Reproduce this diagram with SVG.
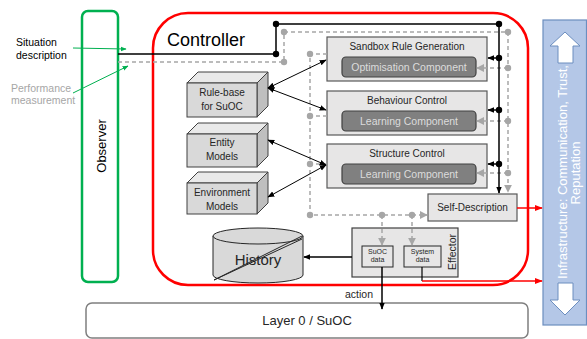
<svg xmlns="http://www.w3.org/2000/svg" width="587" height="339" viewBox="0 0 587 339">
<style>
text{font-family:"Liberation Sans",Arial,sans-serif;fill:#262626}
.box{fill:#e7e6e6;stroke:#595959;stroke-width:1.2}
.inner{fill:#808080;stroke:#404040;stroke-width:1.2}
.it{fill:#dcdcdc;font-size:10.5px;text-anchor:middle}
.t{font-size:10px;text-anchor:middle}
.blk{stroke:#000;stroke-width:1.5;fill:none}
.dsh{stroke:#a6a6a6;stroke-width:1.5;fill:none;stroke-dasharray:4,3}
.dotb{fill:#000}
.dotg{fill:#a6a6a6}
.front{fill:#d9d9d9;stroke:#404040}
.top{fill:#e9e9e9;stroke:#404040}
.side{fill:#bfbfbf;stroke:#404040}
</style>
<defs>
<marker id="ab" viewBox="0 0 10 10" refX="9" refY="5" markerWidth="7" markerHeight="7" markerUnits="userSpaceOnUse" orient="auto-start-reverse"><path d="M0,1 L10,5 L0,9 z" fill="#000"/></marker>
<marker id="ag" viewBox="0 0 10 10" refX="9" refY="5" markerWidth="8" markerHeight="8" markerUnits="userSpaceOnUse" orient="auto"><path d="M0,0 L10,5 L0,10 z" fill="#a6a6a6"/></marker>
<marker id="ar" viewBox="0 0 10 10" refX="9" refY="5" markerWidth="8" markerHeight="8" markerUnits="userSpaceOnUse" orient="auto"><path d="M0,1 L10,5 L0,9 z" fill="#ff0000"/></marker>
<marker id="agr" viewBox="0 0 10 10" refX="9" refY="5" markerWidth="6" markerHeight="6" markerUnits="userSpaceOnUse" orient="auto"><path d="M0,1 L10,5 L0,9 z" fill="#00b050"/></marker>
</defs>
<rect width="587" height="339" fill="#fff"/>

<g id="layer0">
<rect x="86" y="303" width="442" height="35" rx="6" fill="#fff" stroke="#7f7f7f" stroke-width="1.5"/>
<text x="307" y="325" font-size="13" text-anchor="middle">Layer 0 / SuOC</text>
</g>

<g id="controller">
<rect x="153" y="13" width="375" height="272" rx="35" fill="#fff" stroke="#ff0000" stroke-width="2.5"/>
<text x="167" y="46" font-size="18" style="fill:#000">Controller</text>
</g>

<g id="observer">
<rect x="82" y="11" width="36" height="271" rx="6" fill="#fff" stroke="#00b050" stroke-width="2.5"/>
<text transform="translate(106,146) rotate(-90)" font-size="13" text-anchor="middle" style="fill:#000">Observer</text>
</g>

<g id="infrastructure">
<rect x="543" y="20" width="43.5" height="305" fill="#b4c7e7" stroke="#6c8ebf" stroke-width="1.2"/>
<polygon points="565,32 580,46 573,46 573,63 558,63 558,46 550,46" fill="#fff" stroke="#6c8ebf"/>
<polygon points="558,283 573,283 573,300 580,300 565,315 550,300 558,300" fill="#fff" stroke="#6c8ebf"/>
<text transform="translate(567,172) rotate(-90)" font-size="13" text-anchor="middle" style="fill:#fff">Infrastructure: Communication, Trust,</text>
<text transform="translate(580,173) rotate(-90)" font-size="13" text-anchor="middle" style="fill:#fff">Reputation</text>
</g>

<g id="labels">
<text x="16" y="46" font-size="10.5" style="fill:#000">Situation</text>
<text x="16" y="59" font-size="10.5" style="fill:#000">description</text>
<text x="11" y="92" font-size="10.5" style="fill:#a6a6a6">Performance</text>
<text x="11" y="104" font-size="10.5" style="fill:#a6a6a6">measurement</text>
<text x="345" y="298" font-size="10.5">action</text>
</g>

<g id="sandbox">
<rect class="box" x="327" y="37" width="160" height="44"/>
<text class="t" x="407" y="49.5">Sandbox Rule Generation</text>
<rect class="inner" x="342" y="57" width="134" height="20" rx="4"/>
<text class="it" x="409" y="71">Optimisation Component</text>
</g>

<g id="behaviour">
<rect class="box" x="327" y="91" width="160" height="44"/>
<text class="t" x="407" y="103.5">Behaviour Control</text>
<rect class="inner" x="342" y="111" width="134" height="20" rx="4"/>
<text class="it" x="409" y="125">Learning Component</text>
</g>

<g id="structure">
<rect class="box" x="327" y="144" width="160" height="44"/>
<text class="t" x="407" y="156.5">Structure Control</text>
<rect class="inner" x="342" y="164" width="134" height="20" rx="4"/>
<text class="it" x="409" y="178">Learning Component</text>
</g>

<g id="selfdescription">
<rect class="box" x="428" y="194" width="89" height="27"/>
<text class="t" x="472.5" y="211">Self-Description</text>
</g>

<g id="rulebase">
<polygon class="top" points="187,83 198,72 268,72 257,83"/>
<polygon class="side" points="257,83 268,72 268,106 257,117"/>
<rect class="front" x="187" y="83" width="70" height="34"/>
<text class="t" x="222" y="96" font-size="9.7">Rule-base</text>
<text class="t" x="222" y="110" font-size="9.7">for SuOC</text>
</g>

<g id="entity">
<polygon class="top" points="187,134 198,123 268,123 257,134"/>
<polygon class="side" points="257,134 268,123 268,156 257,167"/>
<rect class="front" x="187" y="134" width="70" height="33"/>
<text class="t" x="222" y="146">Entity</text>
<text class="t" x="222" y="160">Models</text>
</g>

<g id="environment">
<polygon class="top" points="187,183 198,172 268,172 257,183"/>
<polygon class="side" points="257,183 268,172 268,203 257,214"/>
<rect class="front" x="187" y="183" width="70" height="31"/>
<text class="t" x="222" y="196">Environment</text>
<text class="t" x="222" y="210">Models</text>
</g>

<g id="history">
<path d="M213,236 V275 A45,8 0 0 0 303,275 V236" fill="#d9d9d9" stroke="#262626"/>
<ellipse cx="258" cy="236" rx="45" ry="8" fill="#d9d9d9" stroke="#262626"/>
<text x="258" y="265" font-size="15" text-anchor="middle">History</text>
<line x1="214" y1="280" x2="302" y2="236" stroke="#262626"/>
<line x1="214" y1="280" x2="302" y2="239" stroke="#262626"/>
</g>

<g id="effector">
<rect x="352" y="228" width="106" height="49" fill="#e7e6e6" stroke="#404040" stroke-width="1.2"/>
<text transform="translate(455.5,252) rotate(-90)" font-size="10.5" text-anchor="middle">Effector</text>
<rect x="362" y="246" width="31" height="21" fill="#e7e6e6" stroke="#262626"/>
<text x="377.5" y="254" font-size="7" text-anchor="middle">SuOC</text>
<text x="377.5" y="262" font-size="7" text-anchor="middle">data</text>
<rect x="404" y="246" width="37" height="21" fill="#e7e6e6" stroke="#262626"/>
<text x="422.5" y="254" font-size="7" text-anchor="middle">System</text>
<text x="422.5" y="262" font-size="7" text-anchor="middle">data</text>
</g>

<g id="connectors">
<line x1="73" y1="48" x2="126" y2="49" stroke="#00b050" marker-end="url(#agr)"/>
<line x1="73" y1="93" x2="128" y2="66" stroke="#00b050" marker-end="url(#agr)"/>

<path class="dsh" d="M118,62 H284 V32 H508 V192" marker-end="url(#ag)"/>
<path class="dsh" d="M508,68 H477" marker-end="url(#ag)"/>
<path class="dsh" d="M508,121 H477" marker-end="url(#ag)"/>
<path class="dsh" d="M508,173 H477" marker-end="url(#ag)"/>
<path class="dsh" d="M327,54 H310 V215 H427" marker-end="url(#ag)"/>
<path class="dsh" d="M327,116 H310"/>
<path class="dsh" d="M327,164 H310"/>
<path class="dsh" d="M382,215 V245" marker-end="url(#ag)"/>
<path class="dsh" d="M412,215 V245" marker-end="url(#ag)"/>
<circle class="dotg" cx="284" cy="62" r="3.2"/>
<circle class="dotg" cx="284" cy="32" r="3.2"/>
<circle class="dotg" cx="508" cy="32" r="3.2"/>
<circle class="dotg" cx="508" cy="68" r="3.2"/>
<circle class="dotg" cx="508" cy="121" r="3.2"/>
<circle class="dotg" cx="508" cy="173" r="3.2"/>
<circle class="dotg" cx="310" cy="54" r="3.2"/>
<circle class="dotg" cx="310" cy="116" r="3.2"/>
<circle class="dotg" cx="310" cy="164" r="3.2"/>
<circle class="dotg" cx="310" cy="215" r="3.2"/>
<circle class="dotg" cx="382" cy="215" r="3.2"/>
<circle class="dotg" cx="412" cy="215" r="3.2"/>

<path class="blk" d="M118,54 H276 V24 H499 V193" marker-end="url(#ab)"/>
<path class="blk" d="M499,58 H488" marker-end="url(#ab)"/>
<path class="blk" d="M499,110 H488" marker-end="url(#ab)"/>
<path class="blk" d="M499,164 H488" marker-end="url(#ab)"/>
<circle class="dotb" cx="276" cy="54" r="3.2"/>
<circle class="dotb" cx="276" cy="24" r="3.2"/>
<circle class="dotb" cx="499" cy="24" r="3.2"/>
<circle class="dotb" cx="499" cy="58" r="3.2"/>
<circle class="dotb" cx="499" cy="110" r="3.2"/>
<circle class="dotb" cx="499" cy="164" r="3.2"/>

<line x1="268" y1="88" x2="326" y2="60" stroke="#000" stroke-width="1" marker-start="url(#ab)" marker-end="url(#ab)"/>
<line x1="268" y1="88" x2="326" y2="110" stroke="#000" stroke-width="1" marker-start="url(#ab)" marker-end="url(#ab)"/>
<line x1="268" y1="140" x2="326" y2="165" stroke="#000" stroke-width="1" marker-start="url(#ab)" marker-end="url(#ab)"/>
<line x1="268" y1="197" x2="326" y2="165" stroke="#000" stroke-width="1" marker-start="url(#ab)" marker-end="url(#ab)"/>

<path class="blk" d="M352,257 H304" marker-end="url(#ab)"/>
<path class="blk" d="M382,267 V309" marker-end="url(#ab)"/>
<path d="M422,267 V281" stroke="#000" stroke-width="1.2" fill="none"/>
<path d="M422,281 H542" stroke="#ff0000" stroke-width="1.5" fill="none" marker-end="url(#ar)"/>
<path d="M517,208 H542" stroke="#ff0000" stroke-width="1.5" fill="none" marker-end="url(#ar)"/>
</g>
</svg>
